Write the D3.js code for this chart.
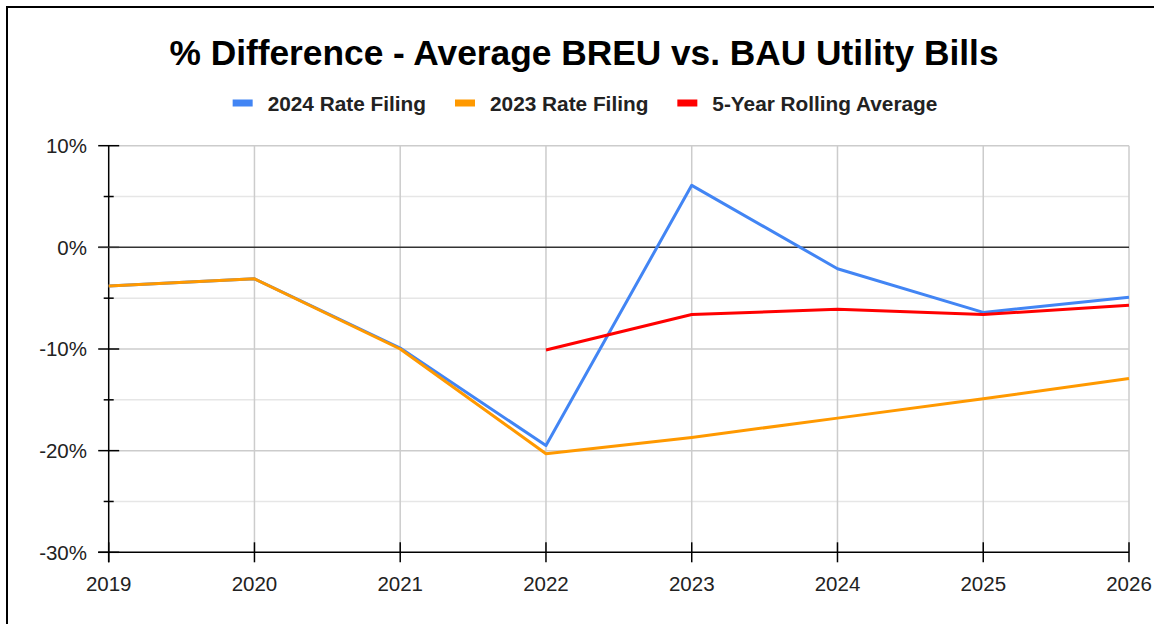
<!DOCTYPE html>
<html>
<head>
<meta charset="utf-8">
<script src="https://cdn.jsdelivr.net/npm/d3@7"></script>
<style>
  html, body { margin: 0; padding: 0; background: #fff; }
  svg { display: block; font-family: "Liberation Sans", Arial, sans-serif; }
</style>
</head>
<body>
<div id="chart"></div>
<script>
// chart data
const years = [2019, 2020, 2021, 2022, 2023, 2024, 2025, 2026];
const rate2024 = [-3.8, -3.1, -9.9, -19.5, 6.1, -2.1, -6.4, -4.9];
const rate2023 = [-3.8, -3.1, -10.0, -20.3, -18.7, -16.8, -14.9, -12.9];
const rolling = [null, null, null, -10.1, -6.6, -6.1, -6.6, -5.7];
const yMajorTicks = [-30, -20, -10, 0, 10];
const yMinorTicks = [-25, -15, -5, 5];

const seriesNames = ['2024 Rate Filing', '2023 Rate Filing', '5-Year Rolling Average'];
const seriesColors = ['#4285F4', '#FF9900', '#FF0000'];
const seriesValues = [rate2024, rate2023, rolling];

const width = 1154, height = 624;
const plot = { left: 108.7, right: 1129, top: 145.7, bottom: 552.3 };

const svg = d3.select('#chart').append('svg')
  .attr('width', width)
  .attr('height', height);

// outer frame (only top/left edges are inside the picture)
svg.append('rect')
  .attr('x', 7).attr('y', 7)
  .attr('width', width + 20).attr('height', height + 20)
  .attr('fill', 'none')
  .attr('stroke', '#000')
  .attr('stroke-width', 2);

const x = d3.scaleLinear().domain([2019, 2026]).range([plot.left, plot.right]);
const y = d3.scaleLinear().domain([-30, 10]).range([plot.bottom, plot.top]);

// title
svg.append('text')
  .attr('x', 584).attr('y', 65)
  .attr('text-anchor', 'middle')
  .attr('font-size', '35.3px')
  .attr('font-weight', 'bold')
  .attr('fill', '#000')
  .text('% Difference - Average BREU vs. BAU Utility Bills');

// legend, centred under the title
const legend = svg.append('g');
let lx = 0;
seriesNames.forEach((name, i) => {
  const item = legend.append('g').attr('transform', `translate(${lx},0)`);
  item.append('rect')
    .attr('x', 0).attr('y', 99.5)
    .attr('width', 20).attr('height', 7)
    .attr('fill', seriesColors[i]);
  const t = item.append('text')
    .attr('x', 35).attr('y', 110.5)
    .attr('font-size', '20.8px')
    .attr('font-weight', 'bold')
    .attr('fill', '#222')
    .text(name);
  lx += 35 + t.node().getComputedTextLength() + 29;
});
const legendWidth = lx - 29;
legend.attr('transform', `translate(${585 - legendWidth / 2},0)`);

// grid
const grid = svg.append('g');
grid.selectAll('.minor')
  .data(yMinorTicks)
  .enter().append('line')
  .attr('x1', plot.left).attr('x2', plot.right)
  .attr('y1', d => y(d)).attr('y2', d => y(d))
  .attr('stroke', '#e6e6e6')
  .attr('stroke-width', 1.5);

grid.selectAll('.major')
  .data(yMajorTicks.filter(d => d !== 0 && d !== -30))
  .enter().append('line')
  .attr('x1', plot.left).attr('x2', plot.right)
  .attr('y1', d => y(d)).attr('y2', d => y(d))
  .attr('stroke', '#cccccc')
  .attr('stroke-width', 1.5);

grid.selectAll('.vgrid')
  .data(years.slice(1))
  .enter().append('line')
  .attr('x1', d => x(d)).attr('x2', d => x(d))
  .attr('y1', plot.top).attr('y2', plot.bottom)
  .attr('stroke', '#cccccc')
  .attr('stroke-width', 1.5);

// zero line
svg.append('line')
  .attr('x1', plot.left - 10.5).attr('x2', plot.right)
  .attr('y1', y(0)).attr('y2', y(0))
  .attr('stroke', '#333')
  .attr('stroke-width', 1.5);

// y axis
const yAxis = svg.append('g');
yAxis.append('line')
  .attr('x1', plot.left).attr('x2', plot.left)
  .attr('y1', plot.top).attr('y2', plot.bottom + 10)
  .attr('stroke', '#000').attr('stroke-width', 1.5);
yAxis.selectAll('.ytick')
  .data(yMajorTicks)
  .enter().append('line')
  .attr('x1', plot.left - 10.5).attr('x2', plot.left + 10.5)
  .attr('y1', d => y(d)).attr('y2', d => y(d))
  .attr('stroke', d => d === 0 ? '#333' : '#000')
  .attr('stroke-width', 1.5);
yAxis.selectAll('.yminor')
  .data(yMinorTicks)
  .enter().append('line')
  .attr('x1', plot.left - 5).attr('x2', plot.left + 5)
  .attr('y1', d => y(d)).attr('y2', d => y(d))
  .attr('stroke', '#000')
  .attr('stroke-width', 1.5);
yAxis.selectAll('.ylabel')
  .data(yMajorTicks)
  .enter().append('text')
  .attr('x', 87)
  .attr('y', d => y(d))
  .attr('dy', '0.36em')
  .attr('text-anchor', 'end')
  .attr('font-size', '20.5px')
  .attr('fill', '#222')
  .text(d => d + '%');

// x axis
const xAxis = svg.append('g');
xAxis.append('line')
  .attr('x1', plot.left - 10.5).attr('x2', plot.right)
  .attr('y1', plot.bottom).attr('y2', plot.bottom)
  .attr('stroke', '#000').attr('stroke-width', 1.5);
xAxis.selectAll('.xtick')
  .data(years)
  .enter().append('line')
  .attr('x1', d => x(d)).attr('x2', d => x(d))
  .attr('y1', plot.bottom - 10).attr('y2', plot.bottom + 10)
  .attr('stroke', '#000')
  .attr('stroke-width', 1.5);
xAxis.selectAll('.xlabel')
  .data(years)
  .enter().append('text')
  .attr('x', d => x(d))
  .attr('y', 591)
  .attr('text-anchor', 'middle')
  .attr('font-size', '20.5px')
  .attr('fill', '#222')
  .text(d => d);

// series lines, drawn in series order
const line = d3.line()
  .defined(d => d[1] !== null)
  .x(d => x(d[0]))
  .y(d => y(d[1]));

seriesValues.forEach((vals, i) => {
  svg.append('path')
    .datum(years.map((yr, j) => [yr, vals[j]]))
    .attr('d', line)
    .attr('fill', 'none')
    .attr('stroke', seriesColors[i])
    .attr('stroke-width', 3)
    .attr('stroke-linejoin', 'round');
});
</script>
</body>
</html>
